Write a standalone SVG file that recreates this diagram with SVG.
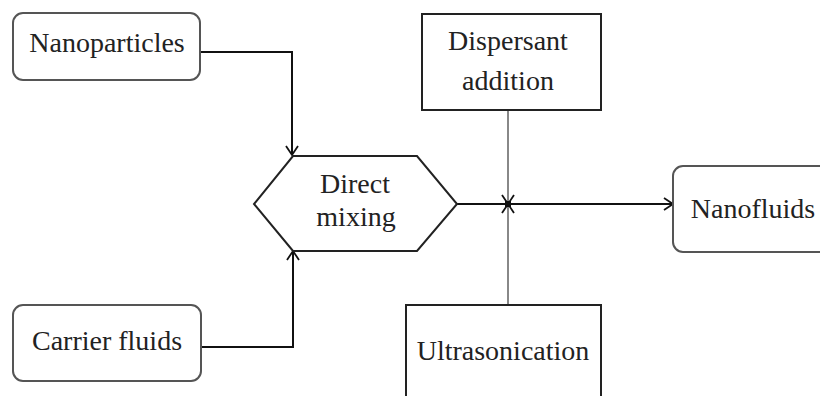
<svg xmlns="http://www.w3.org/2000/svg" width="820" height="396" viewBox="0 0 820 396">
<style>
  .rbox{fill:#fff;stroke:#555;stroke-width:2}
  .sbox{fill:#fff;stroke:#222;stroke-width:2}
  .t{font-family:"Liberation Serif","Times New Roman",serif;font-size:28px;fill:#222;text-anchor:middle}
  .c{fill:none;stroke:#111;stroke-width:2}
  .g{fill:none;stroke:#888;stroke-width:2}
</style>
<defs>
  <marker id="arr" markerUnits="userSpaceOnUse" markerWidth="14" markerHeight="14" viewBox="0 0 14 14" refX="12" refY="7" orient="auto">
    <path d="M3,1 L12,7 L3,13" fill="none" stroke="#111" stroke-width="1.8"/>
  </marker>
</defs>
<rect width="820" height="396" fill="#fff"/>
<g id="connectors">
  <polyline class="c" points="200,52 292,52 292,155" marker-end="url(#arr)"/>
  <polyline class="c" points="201,347 293,347 293,251" marker-end="url(#arr)"/>
  <line class="g" x1="508" y1="110" x2="508" y2="204" marker-end="url(#arr)"/>
  <line class="g" x1="508" y1="305" x2="508" y2="204" marker-end="url(#arr)"/>
  <line class="c" x1="457" y1="204" x2="673" y2="204" marker-end="url(#arr)"/>
  <rect x="505" y="201" width="6" height="6" fill="#111"/>
</g>
<g id="nanoparticles">
  <rect class="rbox" x="13" y="13" width="187" height="67" rx="10"/>
  <text class="t" x="107" y="52">Nanoparticles</text>
</g>
<g id="carrier-fluids">
  <rect class="rbox" x="13" y="305" width="188" height="76" rx="10"/>
  <text class="t" x="107" y="350">Carrier fluids</text>
</g>
<g id="direct-mixing">
  <polygon class="sbox" points="293,156 417,156 457,204 417,251 293,251 254,204"/>
  <text class="t" x="355" y="193">Direct</text>
  <text class="t" x="356" y="226">mixing</text>
</g>
<g id="dispersant-addition">
  <rect class="sbox" x="422" y="14" width="179" height="96"/>
  <text class="t" x="508" y="50">Dispersant</text>
  <text class="t" x="508" y="90">addition</text>
</g>
<g id="ultrasonication">
  <rect class="sbox" x="406" y="305" width="195" height="110"/>
  <text class="t" x="503" y="360">Ultrasonication</text>
</g>
<g id="nanofluids">
  <rect class="rbox" x="673" y="166" width="160" height="86" rx="10"/>
  <text class="t" x="753" y="218">Nanofluids</text>
</g>
</svg>
